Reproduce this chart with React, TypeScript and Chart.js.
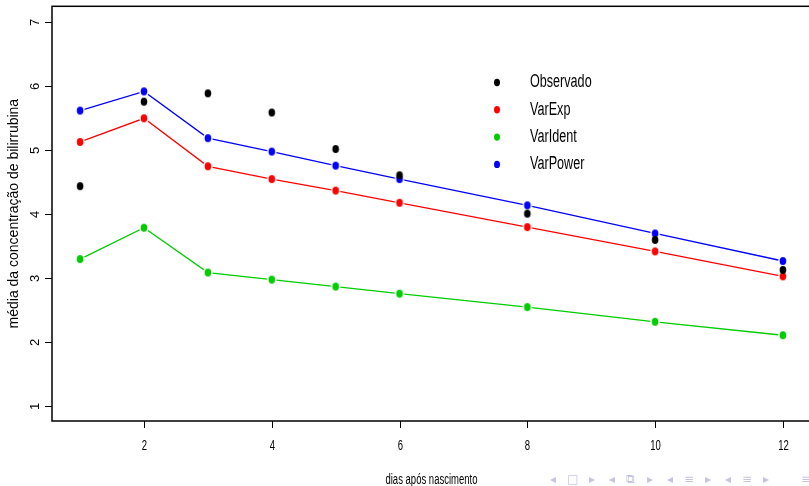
import React, { useEffect, useRef } from "react";
import { Chart, registerables } from "chart.js";

Chart.register(...registerables);

const days = [1, 2, 3, 4, 5, 6, 8, 10, 12];
const observado = [4.43, 5.75, 5.88, 5.58, 5.01, 4.6, 4.0, 3.59, 3.12];
const varExp = [5.12, 5.49, 4.74, 4.54, 4.36, 4.17, 3.79, 3.41, 3.02];
const varIdent = [3.29, 3.78, 3.08, 2.97, 2.86, 2.75, 2.54, 2.31, 2.1];
const varPower = [5.61, 5.91, 5.18, 4.97, 4.75, 4.54, 4.13, 3.69, 3.26];
const xTicks = [2, 4, 6, 8, 10, 12];
const yTicks = [1, 2, 3, 4, 5, 6, 7];
const seriesNames = ["Observado", "VarExp", "VarIdent", "VarPower"];
const seriesColors = ["#000000", "#ff0000", "#00cd00", "#0000ff"];
const xTitle = "dias após nascimento";
const yTitle = "média da concentração de bilirrubina";
const navSymbols = ["◂", "□", "▸", "◂", "⧉", "▸", "◂", "≡", "▸", "◂", "≡", "▸", "≡"];

const FONT = '"Liberation Sans", Arial, Helvetica, sans-serif';

function drawText(
  ctx: CanvasRenderingContext2D,
  text: string,
  x: number,
  y: number,
  size: number,
  sx: number,
  align: CanvasTextAlign,
  baseline: CanvasTextBaseline
) {
  ctx.save();
  ctx.translate(x, y);
  ctx.scale(sx, 1);
  ctx.font = `${size}px ${FONT}`;
  ctx.textAlign = align;
  ctx.textBaseline = baseline;
  ctx.fillStyle = "#000";
  ctx.fillText(text, 0, 0);
  ctx.restore();
}

function ellipseMarker(color: string, ring: boolean): HTMLCanvasElement {
  const c = document.createElement("canvas");
  c.width = 14;
  c.height = 16;
  const g = c.getContext("2d")!;
  if (ring) {
    g.fillStyle = "#ffffff";
    g.beginPath();
    g.ellipse(7, 8, 4.8, 5.5, 0, 0, Math.PI * 2);
    g.fill();
  }
  g.fillStyle = color;
  g.beginPath();
  g.ellipse(7, 8, 3.3, 4, 0, 0, Math.PI * 2);
  g.fill();
  return c;
}

const framePlugin = {
  id: "rframe",
  afterDraw(chart: any) {
    const ctx: CanvasRenderingContext2D = chart.ctx;
    const { left, right, top, bottom } = chart.chartArea;
    const xs = chart.scales.x;
    const ys = chart.scales.y;
    ctx.save();
    ctx.strokeStyle = "#000";
    ctx.lineWidth = 1.5;
    ctx.strokeRect(left, top, right - left, bottom - top);
    ctx.lineWidth = 1;
    xTicks.forEach((v) => {
      const px = Math.round(xs.getPixelForValue(v)) + 0.5;
      ctx.beginPath();
      ctx.moveTo(px, bottom);
      ctx.lineTo(px, bottom + 7);
      ctx.stroke();
      drawText(ctx, String(v), px, bottom + 29, 14, 0.68, "center", "alphabetic");
    });
    yTicks.forEach((v) => {
      const py = Math.round(ys.getPixelForValue(v)) + 0.5;
      ctx.beginPath();
      ctx.moveTo(left, py);
      ctx.lineTo(left - 7, py);
      ctx.stroke();
      ctx.save();
      ctx.translate(left - 13, py);
      ctx.rotate(-Math.PI / 2);
      ctx.font = `13px ${FONT}`;
      ctx.textAlign = "center";
      ctx.textBaseline = "alphabetic";
      ctx.fillStyle = "#000";
      ctx.fillText(String(v), 0, 0);
      ctx.restore();
    });
    drawText(ctx, xTitle, (left + right) / 2, 484, 14, 0.68, "center", "alphabetic");
    ctx.save();
    ctx.translate(17.5, (top + bottom) / 2);
    ctx.rotate(-Math.PI / 2);
    ctx.font = `14px ${FONT}`;
    ctx.textAlign = "center";
    ctx.textBaseline = "alphabetic";
    ctx.fillStyle = "#000";
    ctx.fillText(yTitle, 0, 0);
    ctx.restore();
    const lx = 497;
    const ly0 = 82.5;
    const dy = 27.3;
    seriesNames.forEach((name, i) => {
      const y = ly0 + i * dy;
      ctx.fillStyle = seriesColors[i];
      ctx.beginPath();
      ctx.ellipse(lx, y, 3, 3.7, 0, 0, Math.PI * 2);
      ctx.fill();
      drawText(ctx, name, 530, y, 18, 0.7, "left", "middle");
    });
    ctx.restore();
  },
};

export default function App() {
  const ref = useRef<HTMLCanvasElement>(null);
  useEffect(() => {
    if (!ref.current) return;
    const mk = (vals: number[]) => days.map((d, i) => ({ x: d, y: vals[i] }));
    const lineDs = (label: string, vals: number[], color: string) => ({
      label,
      data: mk(vals),
      borderColor: color,
      backgroundColor: color,
      borderWidth: 1.3,
      pointStyle: ellipseMarker(color, true),
      pointRadius: 5,
      showLine: true,
      tension: 0,
    });
    const chart = new Chart(ref.current, {
      type: "scatter",
      data: {
        datasets: [
          {
            label: seriesNames[0],
            data: mk(observado),
            borderColor: seriesColors[0],
            backgroundColor: seriesColors[0],
            pointStyle: ellipseMarker(seriesColors[0], false),
            pointRadius: 5,
            showLine: false,
          },
          lineDs(seriesNames[1], varExp, seriesColors[1]),
          lineDs(seriesNames[2], varIdent, seriesColors[2]),
          lineDs(seriesNames[3], varPower, seriesColors[3]),
        ] as any,
      },
      options: {
        animation: false,
        responsive: false,
        devicePixelRatio: 1,
        layout: { padding: { left: 52, top: 6, right: 19, bottom: 65 } },
        plugins: { legend: { display: false }, tooltip: { enabled: false } },
        scales: {
          x: { type: "linear", min: 0.56, max: 12.44, display: false },
          y: { type: "linear", min: 0.76, max: 7.24, display: false },
        },
      },
      plugins: [framePlugin],
    });
    return () => chart.destroy();
  }, []);

  const navX = [553, 573, 592, 612, 630, 650, 670, 689, 708, 728, 747, 766, 806];
  return (
    <div
      style={{
        position: "absolute",
        left: 0,
        top: 0,
        width: 809,
        height: 486,
        overflow: "hidden",
        background: "#fff",
      }}
    >
      <canvas ref={ref} width={830} height={486} style={{ width: 830, height: 486, display: "block" }} />
      {navSymbols.map((s, i) => (
        <span
          key={i}
          style={{
            position: "absolute",
            left: navX[i] - 6,
            top: 472,
            width: 12,
            textAlign: "center",
            fontFamily: '"DejaVu Sans", sans-serif',
            fontSize: 12,
            lineHeight: "14px",
            color: "#c4c4e2",
          }}
        >
          {s}
        </span>
      ))}
    </div>
  );
}
